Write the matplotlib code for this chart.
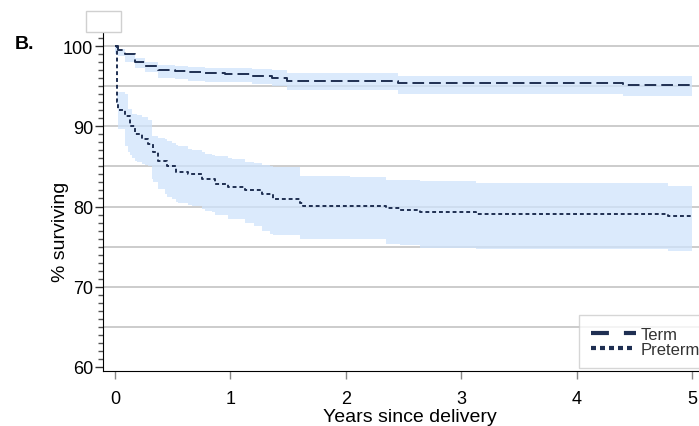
import matplotlib
matplotlib.use('Agg')
from matplotlib import pyplot as plt
from matplotlib.patches import Rectangle
from matplotlib.ticker import MultipleLocator

# term deliveries (time in years, % surviving, 95% CI)
term_t = [0, 0.03, 0.09, 0.17, 0.26, 0.37, 0.52, 0.63, 0.78, 0.95, 1.19, 1.36, 1.49, 2.45, 4.4, 5.0]
term_s = [100, 99.5, 99.1, 98.0, 97.6, 97.1, 96.9, 96.8, 96.65, 96.5, 96.3, 96.05, 95.7, 95.4, 95.2, 95.2]
term_hi = [100, 99.7, 99.0, 98.5, 98.1, 97.7, 97.5, 97.4, 97.35, 97.3, 97.2, 97.05, 96.65, 96.3, 96.3, 96.3]
term_lo = [99.3, 98.8, 98.0, 97.3, 96.8, 96.1, 95.9, 95.7, 95.6, 95.5, 95.3, 95.1, 94.5, 94.06, 93.85, 93.85]

# preterm deliveries
pre_t = [0, 0.015, 0.03, 0.09, 0.115, 0.13, 0.145, 0.17, 0.19, 0.23,
         0.26, 0.29, 0.32, 0.33, 0.375, 0.43, 0.45, 0.49, 0.53, 0.55,
         0.635, 0.665, 0.75, 0.78, 0.84, 0.87, 0.98, 1.01, 1.13, 1.2,
         1.27, 1.34, 1.37, 1.6, 1.63, 2.04, 2.35, 2.47, 2.64, 3.13,
         4.79, 5.0]
pre_s = [100, 93.0, 92.0, 91.35, 91.35, 90.1, 90.1, 89.06, 89.06, 88.4,
         88.4, 87.8, 87.8, 86.8, 85.7, 85.7, 85.1, 85.1, 84.35, 84.35,
         84.06, 84.06, 83.4, 83.4, 83.4, 82.8, 82.4, 82.4, 82.1, 82.1,
         81.56, 81.56, 80.9, 80.44, 80.06, 80.06, 79.8, 79.56, 79.35, 79.1,
         78.85, 78.85]
pre_hi = [100, 94.3, 94.3, 94.06, 92.2, 92.2, 91.6, 91.5, 91.4, 91.2,
          91.15, 90.8, 88.85, 88.8, 88.6, 88.4, 88.2, 87.9, 87.7, 87.6,
          87.2, 87.0, 86.8, 86.6, 86.4, 86.3, 86.0, 85.9, 85.6, 85.4,
          85.2, 85.0, 84.9, 83.85, 83.85, 83.7, 83.35, 83.35, 83.2, 82.9,
          82.5, 82.5]
pre_lo = [99, 92.6, 89.7, 87.5, 86.8, 86.4, 86.0, 85.7, 85.5, 85.3,
          85.2, 85.1, 83.4, 83.1, 82.2, 81.5, 81.2, 80.9, 80.6, 80.5,
          80.2, 80.1, 79.7, 79.5, 79.3, 79.0, 78.44, 78.4, 77.9, 77.56,
          77.0, 76.6, 76.5, 75.94, 75.94, 75.9, 75.3, 75.2, 74.8, 74.7,
          74.5, 74.5]

grid_vals = [65, 70, 75, 80, 85, 90, 95, 100]
x_ticks = [0, 1, 2, 3, 4, 5]
y_ticks = [60, 70, 80, 90, 100]

plt.rcParams['font.family'] = ['Liberation Sans', 'DejaVu Sans']

line_col = '#1f2f52'
band_col = '#cfe3fb'

fig = plt.figure(figsize=(6.99, 4.27), dpi=100)
ax = fig.add_axes([103/699, 1-372/427, 1-103/699, (372-33)/427])

for g in grid_vals:
    ax.axhline(g, color='#c8c8c8', lw=1.3, zorder=0)

ax.fill_between(term_t, term_lo, term_hi, step='post', color=band_col, alpha=0.75, lw=0, zorder=1)
ax.fill_between(pre_t, pre_lo, pre_hi, step='post', color=band_col, alpha=0.75, lw=0, zorder=1)

ax.step(term_t, term_s, where='post', color=line_col, lw=1.4, dashes=(6, 2.6), zorder=3)
ax.step(pre_t, pre_s, where='post', color=line_col, lw=1.4, dashes=(2, 1.5), zorder=3)

ax.set_xlim(-0.104, 5.06)
ax.set_ylim(59.44, 101.81)
ax.set_xticks(x_ticks)
ax.set_yticks(y_ticks)
ax.yaxis.set_minor_locator(MultipleLocator(1))
ax.tick_params(axis='y', which='major', length=6, width=1, color='#333333', labelsize=13, pad=1)
ax.tick_params(axis='y', which='minor', length=3.5, width=1, color='#555555')
ax.tick_params(axis='x', length=6, width=1, color='#888888', labelsize=13, pad=7.5)
ax.spines['top'].set_visible(False)
ax.spines['right'].set_visible(False)
ax.set_xlabel('Years since delivery', fontsize=14, labelpad=1, x=0.515)
ax.set_ylabel('% surviving', fontsize=14, labelpad=-4.5, y=0.413)

# legend (partly cut off at right edge, like the original)
h1, = ax.plot([], [], color=line_col, lw=3, dashes=(4.3, 3.6))
h2, = ax.plot([], [], color=line_col, lw=3, dashes=(1.2, 0.96))
leg = fig.legend([h1, h2], ['Term', 'Preterm'], loc='upper left',
                 bbox_to_anchor=(579/699, 1-316/427), fontsize=12, frameon=True,
                 fancybox=False, handlelength=2.7, handletextpad=0.3,
                 borderpad=0.7, labelspacing=0.0, borderaxespad=0)
leg.get_frame().set_edgecolor('#cccccc')
leg.get_frame().set_linewidth(1)
for t in leg.get_texts():
    t.set_color('#333333')

# empty title box and panel label
fig.patches.append(Rectangle((86/699, 1-33/427), 35/699, 21/427, transform=fig.transFigure,
                             facecolor='white', edgecolor='#d0d0d0', lw=1))
fig.text(15/699, 1-49/427, 'B.', fontsize=14, fontweight='bold')

plt.savefig('out.png', dpi=100)
